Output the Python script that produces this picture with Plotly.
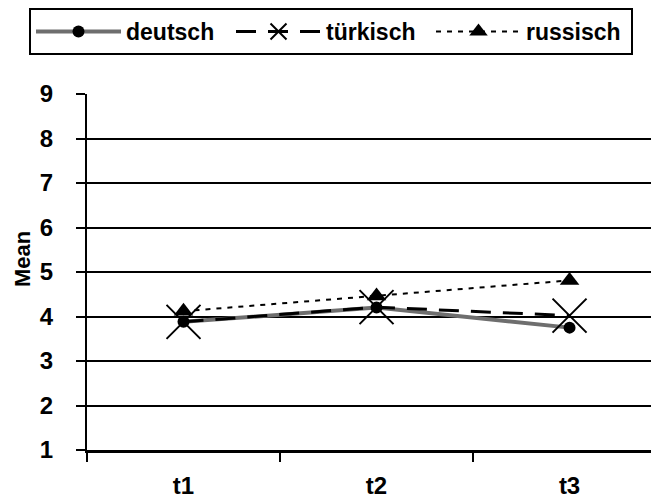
import plotly.graph_objects as go

# Mean scores at three measurement points, per language group
timepoints = ["t1", "t2", "t3"]
deutsch = [3.88, 4.20, 3.75]
tuerkisch = [3.88, 4.21, 4.02]
russisch = [4.12, 4.46, 4.81]
y_ticks = [1, 2, 3, 4, 5, 6, 7, 8, 9]

W, H = 651, 503
M_LEFT, M_TOP, M_BOT = 87, 94, 53
PLOT_W = W - M_LEFT
PLOT_H = H - M_TOP - M_BOT
FONT = "Liberation Sans, Arial, sans-serif"

fig = go.Figure()

fig.add_trace(go.Scatter(
    x=timepoints, y=deutsch, name="deutsch", mode="lines+markers",
    line=dict(color="#6e6e6e", width=4),
    marker=dict(symbol="circle", size=12, color="black"),
))
fig.add_trace(go.Scatter(
    x=timepoints, y=tuerkisch, name="türkisch", mode="lines+markers",
    line=dict(color="black", width=3, dash="20px,12px"),
    marker=dict(symbol="x-thin", size=34, color="black",
                line=dict(color="black", width=2)),
))
fig.add_trace(go.Scatter(
    x=timepoints, y=russisch, name="russisch", mode="lines+markers",
    line=dict(color="black", width=2, dash="5px,6px"),
    marker=dict(symbol="triangle-up", size=17, color="black"),
))

fig.update_layout(
    width=W, height=H,
    margin=dict(l=M_LEFT, r=0, t=M_TOP, b=M_BOT, autoexpand=False),
    paper_bgcolor="white", plot_bgcolor="white",
    font=dict(family=FONT, size=24, color="black", weight="bold"),
    showlegend=True,
    legend=dict(
        orientation="h",
        x=(29 - M_LEFT) / PLOT_W, xanchor="left",
        y=1 + (M_TOP - 8) / PLOT_H, yanchor="top",
        xref="paper", yref="paper",
        bordercolor="black", borderwidth=2, bgcolor="white",
        font=dict(family=FONT, size=23, color="black", weight="bold"),
        itemwidth=85, entrywidth=100, tracegroupgap=0,
    ),
    annotations=[dict(
        text="Mean", textangle=-90, showarrow=False,
        xref="paper", yref="paper",
        x=(22 - M_LEFT) / PLOT_W, y=(H - M_BOT - 259) / PLOT_H,
        xanchor="center", yanchor="middle",
        font=dict(family=FONT, size=22, color="black", weight="bold"),
    )],
)

fig.update_xaxes(
    type="category", range=[-0.5, 2.422],
    tickson="boundaries", ticks="outside", ticklen=9, tickwidth=2, tickcolor="black",
    showline=True, linecolor="black", linewidth=3,
    showgrid=False, zeroline=False,
    ticklabelstandoff=12,
    tickfont=dict(family=FONT, size=24, color="black", weight="bold"),
)
fig.update_yaxes(
    range=[1, 9], tickvals=y_ticks,
    ticks="outside", ticklen=9, tickwidth=2, tickcolor="black",
    showline=True, linecolor="black", linewidth=2,
    showgrid=True, gridcolor="black", gridwidth=2, zeroline=False,
    ticklabelstandoff=18,
    tickfont=dict(family=FONT, size=24, color="black", weight="bold"),
)

fig.write_html("out.html")
